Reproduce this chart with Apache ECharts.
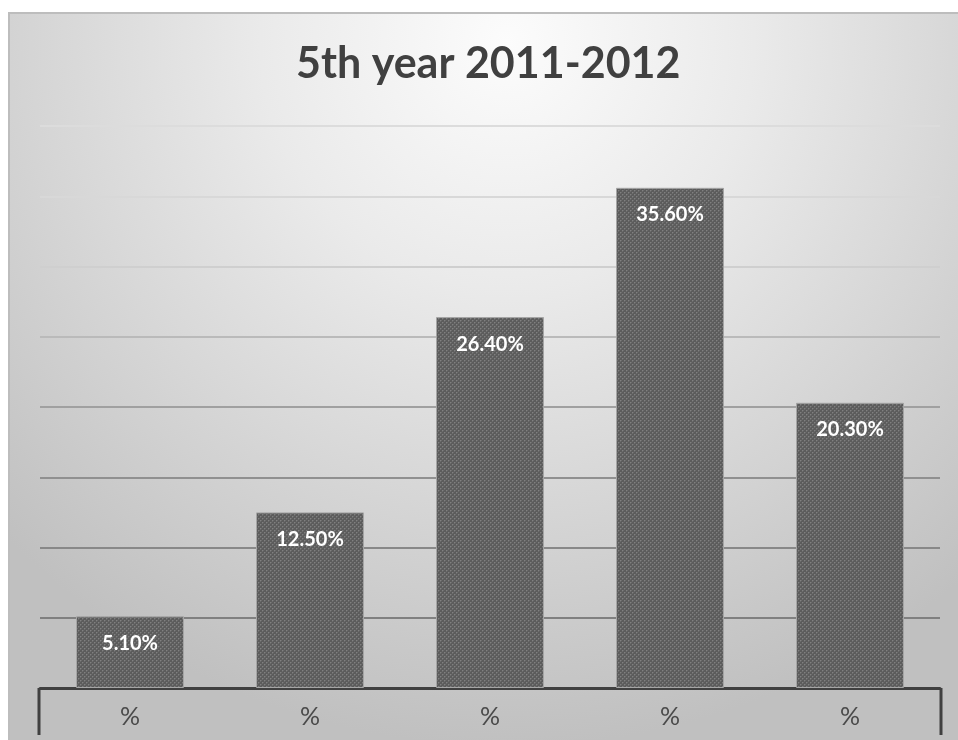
<!DOCTYPE html>
<html>
<head>
<meta charset="utf-8">
<script src="https://cdn.jsdelivr.net/npm/echarts@6/dist/echarts.min.js"></script>
<style>
html,body{margin:0;padding:0;background:#fff;}
#chart{width:958px;height:740px;}
</style>
</head>
<body>
<div id="chart"></div>
<script>
var titleText = '5th year 2011-2012';
var categories = ['%', '%', '%', '%', '%'];
var values = [5.1, 12.5, 26.4, 35.6, 20.3];
var yMin = 0, yMax = 40, yInterval = 5;

var W = 958, H = 740;
var gridLeft = 40, gridRight = 18, gridTop = 126, gridBottom = 52;

// dotted pattern for bars
var pc = document.createElement('canvas');
pc.width = 4; pc.height = 4;
var ctx = pc.getContext('2d');
ctx.fillStyle = '#5c5c5c';
ctx.fillRect(0, 0, 4, 4);
ctx.fillStyle = '#808080';
ctx.fillRect(0, 0, 1, 1);
ctx.fillRect(2, 2, 1, 1);
ctx.fillStyle = '#6c6c6c';
ctx.fillRect(1, 0, 1, 1);
ctx.fillRect(0, 1, 1, 1);
ctx.fillRect(3, 2, 1, 1);
ctx.fillRect(2, 3, 1, 1);

var chart = echarts.init(document.getElementById('chart'), null, {renderer: 'canvas'});
var axisY = H - gridBottom;
var option = {
  backgroundColor: '#ffffff',
  animation: false,
  title: {
    text: titleText,
    left: 291,
    top: 38,
    textStyle: {fontFamily: 'Lato', fontWeight: 'bold', fontSize: 43, color: '#404040'}
  },
  grid: {left: gridLeft, right: gridRight, top: gridTop, bottom: gridBottom},
  graphic: [
    {
      type: 'rect', z: -10, silent: true,
      shape: {x: 9, y: 13, width: W, height: H},
      style: {
        fill: new echarts.graphic.RadialGradient(0.52, 0.04, 0.95, [
          {offset: 0, color: '#fcfcfc'},
          {offset: 0.35, color: '#eaeaea'},
          {offset: 1, color: '#c0c0c0'}
        ]),
        stroke: '#bdbdbd', lineWidth: 2
      }
    },
    {
      type: 'line', z: 10, silent: true,
      shape: {x1: gridLeft - 1, y1: axisY, x2: gridLeft - 1, y2: H - 5},
      style: {stroke: '#404040', lineWidth: 3}
    },
    {
      type: 'line', z: 10, silent: true,
      shape: {x1: W - gridRight + 1, y1: axisY, x2: W - gridRight + 1, y2: H - 5},
      style: {stroke: '#404040', lineWidth: 3}
    }
  ],
  xAxis: {
    type: 'category',
    data: categories,
    axisLine: {show: true, lineStyle: {color: '#404040', width: 3}},
    axisTick: {show: false},
    axisLabel: {color: '#4a4a4a', fontFamily: 'Lato', fontSize: 25, margin: 16}
  },
  yAxis: {
    type: 'value',
    min: yMin, max: yMax, interval: yInterval,
    axisLine: {show: false},
    axisTick: {show: false},
    axisLabel: {show: false},
    splitLine: {
      show: true,
      lineStyle: {
        width: 2,
        color: ['#7a7a7a', '#808080', '#888888', '#909090', '#a0a0a0', '#bababa', '#cfcfcf', '#d8d8d8', '#dcdcdc']
      }
    }
  },
  series: [{
    type: 'bar',
    data: values,
    barWidth: '60%',
    itemStyle: {
      color: {image: pc, repeat: 'repeat'},
      borderColor: '#a5a5a5',
      borderWidth: 1
    },
    label: {
      show: true,
      position: 'insideTop',
      distance: 17,
      color: '#ffffff',
      fontFamily: 'Lato',
      fontWeight: 'bold',
      fontSize: 20,
      formatter: function (p) { return p.value.toFixed(2) + '%'; }
    }
  }]
};
chart.setOption(option);
</script>
</body>
</html>
